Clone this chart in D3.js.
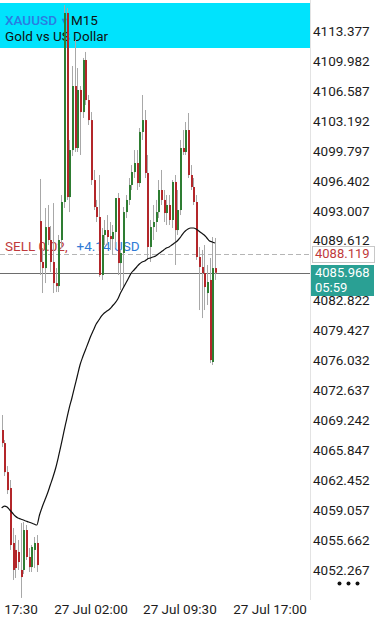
<!DOCTYPE html>
<html>
<head>
<meta charset="utf-8">
<script src="https://cdn.jsdelivr.net/npm/d3@7"></script>
<style>
  html, body { margin: 0; padding: 0; background: #fff; }
  svg { display: block; font-family: Roboto, "Noto Sans", sans-serif; }
</style>
</head>
<body>
<svg id="chart" width="385" height="625"></svg>
<script>
// XAUUSD M15 bars
const opens = [
  4068.14, 4066.66, 4063.37, 4061.56, 4055.33, 4054.54, 4054.31, 4052.27, 4052.27, 4056.80,
  4053.74, 4052.60, 4054.54, 4055.33, 4091.83, 4087.19, 4086.50, 4091.15, 4089.68, 4087.19,
  4084.80, 4084.46, 4089.68, 4093.99, 4115.42, 4094.55, 4099.88, 4107.14, 4100.11, 4106.69,
  4104.19, 4110.09, 4105.55, 4103.28, 4096.48, 4093.42, 4092.29, 4085.71, 4090.25, 4090.81,
  4090.13, 4089.79, 4090.59, 4094.44, 4087.07, 4088.21, 4092.85, 4094.22, 4095.92, 4097.39,
  4098.41, 4096.14, 4101.93, 4103.28, 4097.28, 4088.89, 4091.15, 4091.72, 4092.85, 4095.35,
  4094.22, 4092.74, 4093.65, 4091.95, 4096.26, 4090.81, 4093.08, 4100.11, 4099.66, 4102.15,
  4097.05, 4095.69, 4093.99, 4087.75, 4086.62, 4085.94, 4083.67, 4085.15, 4075.85, 4086.50
];
const highs = [
  4069.84, 4067.00, 4064.05, 4062.47, 4057.03, 4056.23, 4055.67, 4057.59, 4057.70, 4057.37,
  4054.76, 4055.10, 4056.01, 4056.23, 4096.60, 4088.77, 4093.31, 4093.65, 4091.27, 4093.87,
  4086.50, 4090.25, 4094.78, 4116.32, 4115.98, 4101.02, 4109.41, 4112.36, 4109.18, 4107.14,
  4110.32, 4111.00, 4106.12, 4104.19, 4097.62, 4094.22, 4097.05, 4091.04, 4091.95, 4092.51,
  4091.72, 4091.38, 4093.65, 4095.01, 4088.55, 4093.42, 4094.78, 4096.71, 4098.18, 4099.88,
  4099.88, 4102.38, 4106.12, 4104.42, 4099.32, 4091.95, 4093.65, 4094.22, 4096.48, 4097.62,
  4095.35, 4094.78, 4094.78, 4096.48, 4097.05, 4095.35, 4101.02, 4102.15, 4103.06, 4104.08,
  4098.18, 4096.71, 4094.78, 4088.89, 4088.55, 4089.11, 4086.85, 4087.64, 4090.02, 4089.91
];
const lows = [
  4066.21, 4062.92, 4060.88, 4054.54, 4051.14, 4051.36, 4052.27, 4049.10, 4051.81, 4053.40,
  4052.04, 4052.04, 4052.49, 4052.04, 4085.71, 4083.67, 4084.80, 4089.11, 4086.05, 4083.67,
  4083.78, 4083.78, 4088.77, 4093.31, 4094.22, 4092.85, 4099.20, 4099.66, 4099.66, 4099.32,
  4103.51, 4104.99, 4102.72, 4095.92, 4093.08, 4091.72, 4085.49, 4085.15, 4089.11, 4089.11,
  4088.55, 4087.98, 4088.77, 4085.71, 4084.01, 4084.35, 4092.17, 4093.65, 4095.35, 4096.71,
  4095.35, 4095.69, 4101.02, 4096.71, 4087.42, 4087.19, 4089.68, 4090.59, 4092.17, 4093.65,
  4091.72, 4091.38, 4091.38, 4091.04, 4086.85, 4090.25, 4092.51, 4099.32, 4099.32, 4096.71,
  4095.35, 4093.65, 4087.42, 4081.74, 4080.83, 4081.74, 4082.31, 4075.73, 4075.51, 4085.15
];
const closes = [
  4066.66, 4063.37, 4061.33, 4055.10, 4052.27, 4052.49, 4053.17, 4051.47, 4056.80, 4053.74,
  4052.60, 4054.88, 4055.33, 4052.83, 4087.19, 4086.50, 4091.15, 4089.68, 4087.19, 4084.80,
  4084.46, 4089.68, 4093.99, 4115.42, 4094.55, 4099.88, 4107.14, 4100.11, 4106.69, 4104.19,
  4110.09, 4105.55, 4103.28, 4096.48, 4093.42, 4092.29, 4085.71, 4090.25, 4090.81, 4090.02,
  4089.79, 4090.59, 4094.44, 4087.07, 4088.21, 4092.85, 4094.22, 4095.92, 4097.39, 4098.41,
  4096.14, 4101.93, 4103.28, 4097.28, 4088.89, 4091.15, 4091.72, 4092.85, 4095.35, 4094.22,
  4092.74, 4093.65, 4091.95, 4096.26, 4090.81, 4093.08, 4100.11, 4099.66, 4102.15, 4097.05,
  4095.69, 4093.99, 4087.75, 4086.62, 4085.94, 4084.35, 4084.92, 4076.07, 4086.50, 4085.968
];
// moving average line, one value per bar
const maValues = [
  4059.30, 4059.52, 4059.41, 4059.07, 4058.73, 4058.39, 4058.16, 4058.05, 4057.93, 4057.82,
  4057.71, 4057.59, 4057.48, 4057.37, 4058.50, 4059.41, 4060.20, 4060.99, 4061.90, 4062.81,
  4063.83, 4065.08, 4066.44, 4067.91, 4069.27, 4070.63, 4071.77, 4073.02, 4074.26, 4075.51,
  4076.42, 4077.21, 4078.00, 4078.80, 4079.48, 4080.16, 4080.61, 4081.07, 4081.41, 4081.63,
  4081.86, 4082.20, 4082.54, 4082.99, 4083.67, 4084.24, 4084.80, 4085.37, 4085.94, 4086.28,
  4086.62, 4086.96, 4087.19, 4087.30, 4087.53, 4087.64, 4087.75, 4087.87, 4088.10, 4088.32,
  4088.55, 4088.77, 4088.89, 4089.11, 4089.34, 4089.57, 4089.91, 4090.36, 4090.70, 4090.93,
  4091.04, 4091.04, 4090.93, 4090.70, 4090.47, 4090.25, 4089.91, 4089.57, 4089.46, 4089.34
];

// the 4086.217 level sits under the bid tag and is not shown
const priceTicks = [
  4113.377, 4109.982, 4106.587, 4103.192, 4099.797, 4096.402, 4093.007, 4089.612,
  4082.822, 4079.427, 4076.032, 4072.637, 4069.242, 4065.847, 4062.452, 4059.057, 4055.662, 4052.267
];
const timeLabels = ['17:30', '27 Jul 02:00', '27 Jul 09:30', '27 Jul 17:00'];
const timeLabelBars = [7.15, 33.1, 66.0, 99.4];

const symbol = 'XAUUSD';
const timeframe = 'M15';
const description = 'Gold vs US Dollar';
const positionText = 'SELL 0.02,';
const profitText = '+4.14 USD';
const positionPrice = 4088.119;
const bidPrice = 4085.968;
const countdown = '05:59';

const plotRight = 310;
const plotBottom = 600;
const red = '#b3262a';
const green = '#2e7d32';

const svg = d3.select('#chart');

const x = d3.scaleLinear()
  .domain([0, closes.length - 1])
  .range([1.7, 215]);

const y = d3.scaleLinear()
  .domain([4052.267, 4113.377])
  .range([570, 31]);

// header panel (candles draw over it)
const header = svg.append('g').attr('class', 'header');
header.append('rect')
  .attr('x', 0).attr('y', 3)
  .attr('width', plotRight).attr('height', 45)
  .attr('fill', '#00e3fd');
const title = header.append('text')
  .attr('x', 5).attr('y', 25)
  .attr('font-size', 13.5);
title.append('tspan').attr('fill', '#2a7de1').attr('font-weight', 500).text(symbol);
title.append('tspan').attr('fill', '#2a7de1').attr('font-size', 9).attr('dx', 3).attr('dy', -1).text('▼');
title.append('tspan').attr('fill', '#111').attr('dx', 2).attr('dy', 1).text(timeframe);
header.append('text')
  .attr('x', 5).attr('y', 41)
  .attr('font-size', 13.5)
  .attr('fill', '#111')
  .text(description);

// trade line label
const trade = svg.append('text')
  .attr('x', 5).attr('y', y(positionPrice) - 3)
  .attr('font-size', 13.5);
trade.append('tspan').attr('fill', '#c0393b').text(positionText);
trade.append('tspan').attr('fill', '#2f7bd6').attr('dx', 9).text(profitText);

svg.append('line')
  .attr('x1', 0).attr('x2', plotRight)
  .attr('y1', Math.round(y(positionPrice)) + 0.5).attr('y2', Math.round(y(positionPrice)) + 0.5)
  .attr('stroke', '#b5b5b5')
  .attr('stroke-dasharray', '5,3');

svg.append('line')
  .attr('x1', 0).attr('x2', plotRight)
  .attr('y1', Math.round(y(bidPrice)) + 0.5).attr('y2', Math.round(y(bidPrice)) + 0.5)
  .attr('stroke', '#6d6d6d');

// candles
const bars = closes.map((c, i) => ({ i, o: opens[i], h: highs[i], l: lows[i], c }));

const candles = svg.append('g').attr('class', 'candles')
  .selectAll('g')
  .data(bars)
  .join('g');

candles.append('line')
  .attr('x1', d => Math.round(x(d.i)) + 0.5)
  .attr('x2', d => Math.round(x(d.i)) + 0.5)
  .attr('y1', d => y(d.h))
  .attr('y2', d => y(d.l))
  .attr('stroke', '#a8a8a8')
  .attr('stroke-width', 1);

candles.append('rect')
  .attr('x', d => Math.round(x(d.i)))
  .attr('width', 2)
  .attr('y', d => Math.min(y(d.o), y(d.c)))
  .attr('height', d => Math.max(1, Math.abs(y(d.o) - y(d.c))))
  .attr('fill', d => d.c >= d.o ? green : red);

// moving average
const maLine = d3.line()
  .x((d, i) => x(i))
  .y(d => y(d))
  .curve(d3.curveMonotoneX);

svg.append('path')
  .datum(maValues)
  .attr('fill', 'none')
  .attr('stroke', '#111')
  .attr('stroke-width', 1.2)
  .attr('d', maLine);

// price axis
svg.append('line')
  .attr('x1', plotRight + 0.5).attr('x2', plotRight + 0.5)
  .attr('y1', 0).attr('y2', plotBottom)
  .attr('stroke', '#e3e3e3');

svg.append('g').attr('class', 'yAxis')
  .selectAll('text')
  .data(priceTicks)
  .join('text')
  .attr('x', 313)
  .attr('y', d => y(d))
  .attr('dy', '0.36em')
  .attr('font-size', 13.5)
  .attr('fill', '#1c1c1c')
  .text(d => d.toFixed(3));

// open position price tag
svg.append('rect')
  .attr('x', 312.5).attr('y', Math.round(y(positionPrice)) - 7.5)
  .attr('width', 62).attr('height', 16)
  .attr('fill', '#fff')
  .attr('stroke', '#c8c8c8');
svg.append('text')
  .attr('x', 315).attr('y', y(positionPrice))
  .attr('dy', '0.36em')
  .attr('font-size', 13)
  .attr('fill', '#c0393b')
  .text(positionPrice.toFixed(3));

// bid price tag
svg.append('rect')
  .attr('x', 311).attr('y', Math.round(y(bidPrice)) - 8)
  .attr('width', 63).attr('height', 31)
  .attr('fill', '#2aa094');
svg.append('text')
  .attr('x', 315).attr('y', y(bidPrice))
  .attr('dy', '0.36em')
  .attr('font-size', 13)
  .attr('fill', '#fff')
  .text(bidPrice.toFixed(3));
svg.append('text')
  .attr('x', 315).attr('y', y(bidPrice) + 15)
  .attr('dy', '0.36em')
  .attr('font-size', 13)
  .attr('fill', '#fff')
  .text(countdown);

// more menu
svg.append('g')
  .selectAll('circle')
  .data([0, 1, 2])
  .join('circle')
  .attr('cx', d => 339.5 + d * 9)
  .attr('cy', 583.5)
  .attr('r', 2)
  .attr('fill', '#111');

// time axis
svg.append('g').attr('class', 'xAxis')
  .selectAll('text')
  .data(timeLabels)
  .join('text')
  .attr('x', (d, i) => x(timeLabelBars[i]))
  .attr('y', 614)
  .attr('text-anchor', 'middle')
  .attr('font-size', 13.5)
  .attr('fill', '#1c1c1c')
  .text(d => d);
</script>
</body>
</html>
